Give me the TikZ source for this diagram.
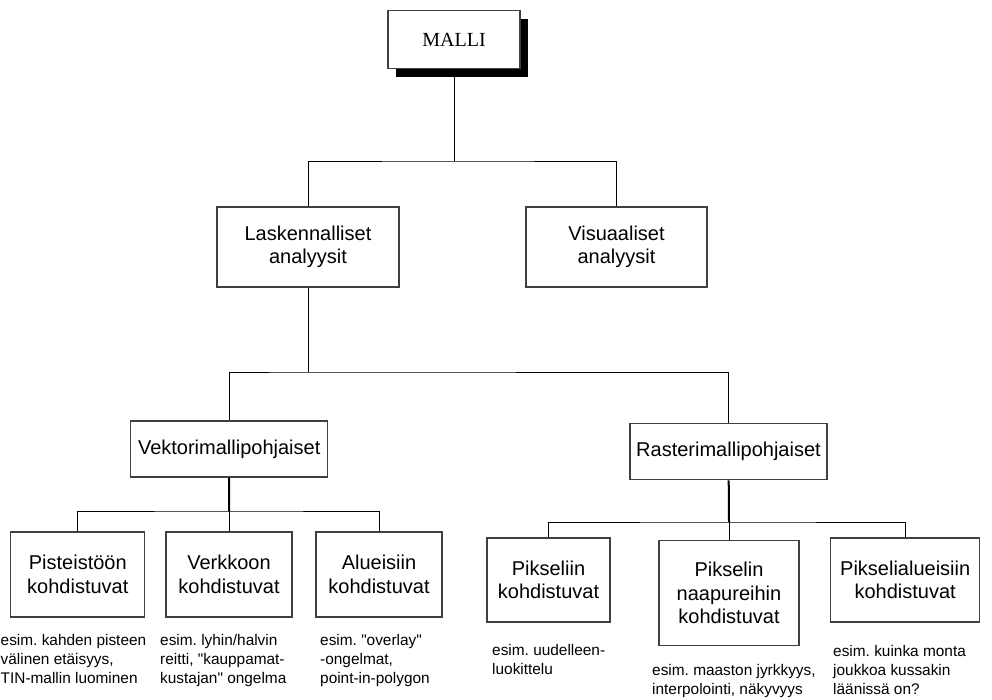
\documentclass[tikz,border=0pt]{standalone}
\usepackage{fontspec}
\setmainfont{Liberation Sans}
% separate family without the TeX quote mapping, so " stays a straight quote
\newfontfamily\arialf{Liberation Sans}
\newfontfamily\timesf{Liberation Serif}
\frenchspacing
\begin{document}
\begin{tikzpicture}[x=1pt,y=-1pt,
  box/.style={draw=black!75,line width=1.1pt,fill=white,inner sep=0pt,align=center,
              font=\arialf\fontsize{20}{23.5}\selectfont},
  link/.style={draw=black,line width=1pt},
  trunk/.style={draw=black,line width=2pt},
  caption/.style={anchor=base west,inner sep=0pt,font=\arialf\fontsize{15.4}{19}\selectfont}]
\useasboundingbox (0,0) rectangle (992,699);

% top node with drop shadow
\fill[black] (396,18.7) rectangle (528,77);
\node[box,minimum width=132pt,minimum height=58pt,font=\timesf\fontsize{20}{23}\selectfont]
  (malli) at (454,39.8) {MALLI};

% second level
\node[box,minimum width=182pt,minimum height=80pt] (lask) at (308,247) {Laskennalliset\\analyysit};
\node[box,minimum width=181pt,minimum height=80pt] (visu) at (616.5,247) {Visuaaliset\\analyysit};

% third level
\node[box,minimum width=197pt,minimum height=56pt] (vekt) at (229.2,449) {Vektorimallipohjaiset};
\node[box,minimum width=197pt,minimum height=56pt] (rast) at (728.5,451.7) {Rasterimallipohjaiset};

% vector leaves
\node[box,minimum width=134pt,minimum height=85pt] (pist) at (77.8,574.5) {Pisteistöön\\kohdistuvat};
\node[box,minimum width=126pt,minimum height=85pt] (verk) at (229,574.5) {Verkkoon\\kohdistuvat};
\node[box,minimum width=126pt,minimum height=85pt] (alue) at (379,574.5) {Alueisiin\\kohdistuvat};

% raster leaves
\node[box,minimum width=123pt,minimum height=84pt] (pix) at (548.5,580) {Pikseliin\\kohdistuvat};
\node[box,minimum width=140pt,minimum height=105pt] (naap) at (729,593.3) {Pikselin\\naapureihin\\kohdistuvat};
\node[box,minimum width=149pt,minimum height=84pt] (pixal) at (905.2,580) {Pikselialueisiin\\kohdistuvat};

% junction points
\coordinate (j1) at (454,161);
\coordinate (j2) at (308,372);
\coordinate (j3) at (229,511);
\coordinate (j4) at (729,522);

% connectors
\draw[link] (malli) -- (j1);
\draw[link] (lask.north) |- (j1) -| (visu.north);
\draw[link] (lask) -- (j2);
\draw[link] (vekt.north) |- (j2) -| (rast.north);
\draw[trunk] (vekt) -- (j3);
\draw[link] (pist.north) |- (j3) -| (alue.north);
\draw[link] (verk) -- (j3);
\draw[trunk] (rast) -- (j4);
\draw[link] (pix.north) |- (j4) -| (pixal.north);
\draw[link] (naap) -- (j4);

% examples under the leaves
\node[caption] (cpist) at (0.5,645) {\begin{tabular}[t]{@{}l@{}}esim. kahden pisteen\\välinen etäisyys,\\TIN-mallin luominen\end{tabular}};
\node[caption] (cverk) at (160,645) {\begin{tabular}[t]{@{}l@{}}esim. lyhin/halvin\\reitti, "kauppamat-\\kustajan" ongelma\end{tabular}};
\node[caption] (calue) at (320,645) {\begin{tabular}[t]{@{}l@{}}esim. "overlay"\\-ongelmat,\\point-in-polygon\end{tabular}};
\node[caption] (cpix) at (492,655) {\begin{tabular}[t]{@{}l@{}}esim. uudelleen-\\luokittelu\end{tabular}};
\node[caption] (cnaap) at (652,675) {\begin{tabular}[t]{@{}l@{}}esim. maaston jyrkkyys,\\interpolointi, näkyvyys\end{tabular}};
\node[caption] (cpixal) at (833,656) {\begin{tabular}[t]{@{}l@{}}esim. kuinka monta\\joukkoa kussakin\\läänissä on?\end{tabular}};
\end{tikzpicture}
\end{document}
